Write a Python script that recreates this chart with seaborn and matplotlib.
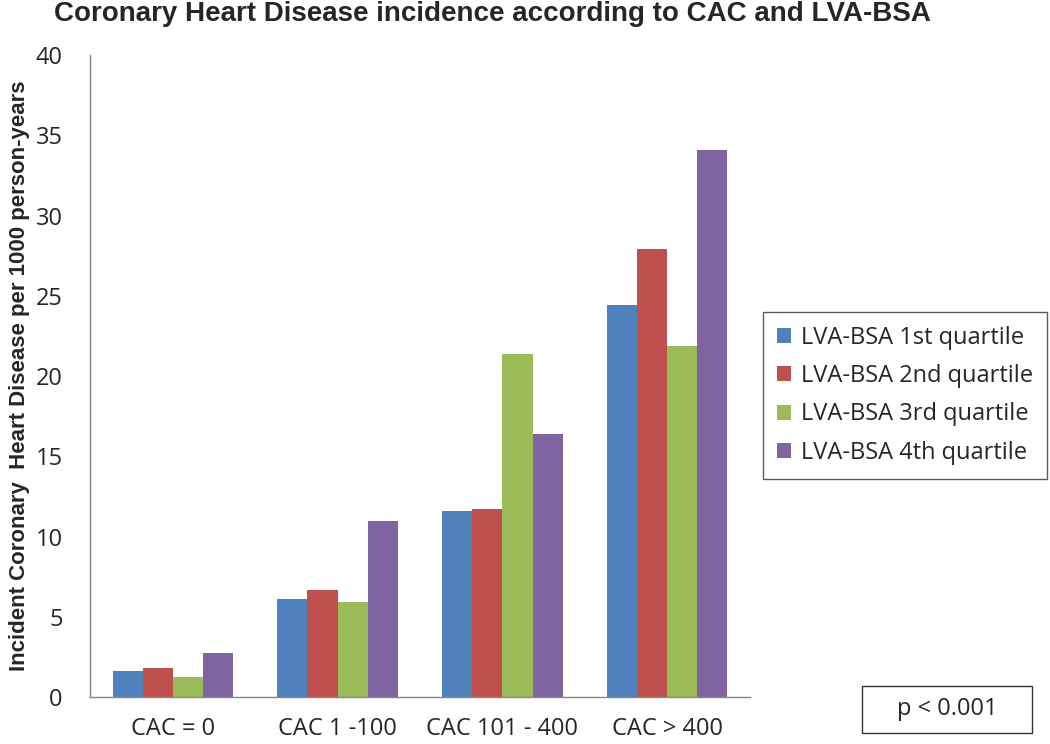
import pandas as pd
import matplotlib.pyplot as plt
import matplotlib.patches as mpatches
import seaborn as sns

# values
groups = ['CAC = 0', 'CAC 1 -100', 'CAC 101 - 400', 'CAC > 400']
quartiles = ['LVA-BSA 1st quartile', 'LVA-BSA 2nd quartile',
             'LVA-BSA 3rd quartile', 'LVA-BSA 4th quartile']
q1 = [1.6, 6.1, 11.6, 24.4]
q2 = [1.8, 6.7, 11.7, 27.9]
q3 = [1.25, 5.9, 21.4, 21.9]
q4 = [2.75, 11.0, 16.4, 34.1]
colors = ['#4F81BD', '#C0504D', '#9BBB59', '#8064A2']

rows = []
for q, vals in zip(quartiles, [q1, q2, q3, q4]):
    for g, v in zip(groups, vals):
        rows.append({'group': g, 'quartile': q, 'value': v})
df = pd.DataFrame(rows)

sns.set_style('white')
plt.rcParams['font.family'] = ['Open Sans', 'DejaVu Sans']
narrow = ['Liberation Sans', 'DejaVu Sans']

fig = plt.figure(figsize=(10.5, 7.44), dpi=100)
ax = fig.add_axes([0.086, 0.063, 0.628, 0.863])
sns.barplot(data=df, x='group', y='value', hue='quartile', order=groups,
            hue_order=quartiles, palette=colors, width=0.73, saturation=1,
            edgecolor='none', ax=ax)

ax.set_ylim(0, 40)
ax.set_yticks(range(0, 41, 5))
ax.set_xlim(-0.5, 3.5)
ax.tick_params(axis='both', labelsize=17, length=0, color='#1a1a1a')
ax.tick_params(axis='x', pad=14)
ax.tick_params(axis='y', pad=20)
ax.set_xlabel('')
ax.set_ylabel('Incident Coronary  Heart Disease per 1000 person-years',
              fontsize=16, fontweight='bold', family=narrow, labelpad=4)
for s in ['top', 'right']:
    ax.spines[s].set_visible(False)
for s in ['left', 'bottom']:
    ax.spines[s].set_color('#888888')
    ax.spines[s].set_linewidth(1)

fig.suptitle('Coronary Heart Disease incidence according to CAC and LVA-BSA',
             x=0.469, y=0.998, fontsize=20, fontweight='bold', family=narrow)

leg = ax.legend(loc='center left', bbox_to_anchor=(1.02, 0.47), fontsize=17,
                frameon=True, fancybox=False, edgecolor='#333333',
                handlelength=0.6, handleheight=0.6, handletextpad=0.4,
                labelspacing=0.6, borderpad=0.6, borderaxespad=0)
leg.get_frame().set_linewidth(1)

fig.patches.append(mpatches.Rectangle((0.821, 0.0148), 0.162, 0.0632,
                                      transform=fig.transFigure, facecolor='white',
                                      edgecolor='#333333', linewidth=1))
fig.text(0.902, 0.0464, 'p < 0.001', fontsize=17, ha='center', va='center')

fig.savefig('out.png', dpi=100)
